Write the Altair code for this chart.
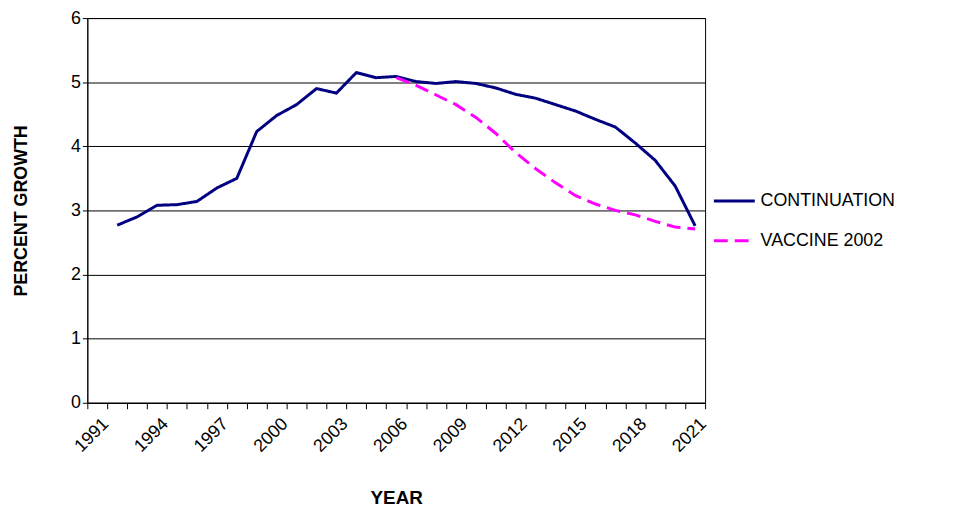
import altair as alt
import pandas as pd

years_c = list(range(1992, 2022))
cont = [2.77, 2.9, 3.08, 3.09, 3.14, 3.35, 3.5, 4.23, 4.48, 4.65, 4.9, 4.83, 5.15, 5.07, 5.09,
        5.01, 4.98, 5.01, 4.98, 4.91, 4.81, 4.75, 4.65, 4.55, 4.42, 4.3, 4.05, 3.78, 3.38, 2.76]
years_v = list(range(2006, 2022))
vacc = [5.07, 4.95, 4.8, 4.65, 4.45, 4.2, 3.9, 3.65, 3.43, 3.23, 3.1, 3.0, 2.93, 2.83, 2.74, 2.71]
series = ["CONTINUATION", "VACCINE 2002"]
tick_pos = [y + 0.5 for y in range(1990, 2022)]

df = pd.DataFrame(
    [{"year": y, "v": v, "s": series[0]} for y, v in zip(years_c, cont)]
    + [{"year": y, "v": v, "s": series[1]} for y, v in zip(years_v, vacc)]
)

F = "Liberation Sans"
xs = alt.Scale(domain=[1990.5, 2021.5], nice=False, zero=False)
ys = alt.Scale(domain=[0, 6], nice=False)

chart = alt.Chart(df).mark_line(strokeWidth=3).encode(
    x=alt.X("year:Q", scale=xs, title="YEAR",
            axis=alt.Axis(values=tick_pos, labelAngle=-45, labelAlign="right", labelBaseline="top",
                          labelExpr="(datum.value - 1990.5) % 3 == 0 ? format(datum.value + 0.5, 'd') : ''",
                          labelOffset=12, labelPadding=6, labelFlush=False, labelOverlap=False,
                          tickColor="black", domainColor="black", tickSize=6, grid=False,
                          labelFont=F, labelFontSize=18, labelColor="black",
                          titleFont=F, titleFontSize=19, titleFontWeight="bold",
                          titleColor="black", titlePadding=34)),
    y=alt.Y("v:Q", scale=ys, title="PERCENT GROWTH",
            axis=alt.Axis(values=[0, 1, 2, 3, 4, 5, 6], grid=True, gridColor="black", gridWidth=1,
                          tickColor="black", domainColor="black", labelFont=F, labelFontSize=18,
                          labelColor="black", titleFont=F, titleFontSize=18, titleFontWeight="bold",
                          titleColor="black", titlePadding=40)),
    color=alt.Color("s:N", scale=alt.Scale(domain=series, range=["#000080", "#FF00FF"]),
                    legend=alt.Legend(title=None, orient="none", legendX=630, legendY=162,
                                      symbolType="stroke", symbolStrokeWidth=3, symbolSize=1700,
                                      labelFont=F, labelFontSize=18, labelColor="black", rowPadding=8)),
    strokeDash=alt.StrokeDash("s:N", scale=alt.Scale(domain=series, range=[[1, 0], [14, 7]]), legend=None),
).properties(
    width=623, height=388, autosize="none",
    padding={"left": 80, "top": 8, "right": 248, "bottom": 110},
).configure_view(stroke="black", strokeWidth=1)

chart.save("out.html", embed_options={"renderer": "svg", "actions": False})
